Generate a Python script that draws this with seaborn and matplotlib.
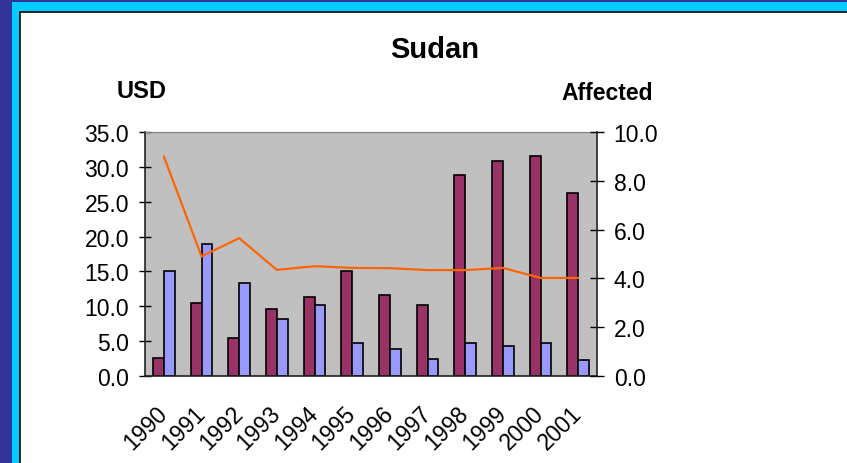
import numpy as np
import pandas as pd
import seaborn as sns
import matplotlib.pyplot as plt
from matplotlib.patches import Rectangle
from matplotlib.ticker import FixedLocator, FormatStrFormatter

# data
years = ['1990', '1991', '1992', '1993', '1994', '1995',
         '1996', '1997', '1998', '1999', '2000', '2001']
usd_a = [2.6, 10.5, 5.4, 9.6, 11.3, 15.0, 11.6, 10.2, 28.8, 30.8, 31.6, 26.3]
usd_b = [15.0, 18.9, 13.3, 8.2, 10.2, 4.8, 3.9, 2.5, 4.8, 4.3, 4.8, 2.3]
affected = [9.0, 4.9, 5.65, 4.35, 4.5, 4.43, 4.42, 4.34, 4.34, 4.43, 4.02, 4.02]

df = pd.DataFrame({
    'year': years * 2,
    'value': usd_a + usd_b,
    'series': ['A'] * len(years) + ['B'] * len(years),
})

sns.set_style('white')
plt.rcParams['font.family'] = ['Liberation Sans', 'DejaVu Sans']
plt.rcParams['text.color'] = 'black'
plt.rcParams['xtick.color'] = 'black'
plt.rcParams['ytick.color'] = 'black'

fig = plt.figure(figsize=(8.47, 4.64), dpi=100)
fig.patch.set_facecolor('white')

# slide-like frame
W, H = 847, 464
fig.patches.append(Rectangle((0, 0), 1, 1, transform=fig.transFigure,
                             facecolor='#333399', edgecolor='none', zorder=-3))
fig.patches.append(Rectangle((12 / W, 0), 1, 1 - 3 / H, transform=fig.transFigure,
                             facecolor='#00CCFF', edgecolor='none', zorder=-2))
fig.patches.append(Rectangle((20 / W, -0.05), 1, 1.05 - 13 / H, transform=fig.transFigure,
                             facecolor='white', edgecolor='black', linewidth=1.2, zorder=-1))

ax = fig.add_axes([145 / W, 87 / H, 452 / W, 244 / H])
ax.set_facecolor('#C0C0C0')

sns.barplot(data=df, x='year', y='value', hue='series',
            palette=['#993366', '#9999FF'], width=0.57, saturation=1,
            edgecolor='black', linewidth=1.2, legend=False, ax=ax, zorder=2)

ax.set_xlim(-0.5, len(years) - 0.5)
ax.set_ylim(0, 35)
ax.yaxis.set_major_locator(FixedLocator(np.arange(0, 35.1, 5)))
ax.yaxis.set_major_formatter(FormatStrFormatter('%.1f'))
ax.set_xlabel('')
ax.set_ylabel('')

# ticks on category boundaries, labels at centres
ax.xaxis.set_minor_locator(FixedLocator(np.arange(-0.5, len(years), 1)))
ax.tick_params(axis='x', which='major', length=0, pad=24, labelsize=16.5)
ax.tick_params(axis='x', which='minor', direction='out', length=6, width=1, color='#333333')
ax.tick_params(axis='y', direction='inout', length=9, width=1, pad=7, labelsize=16.5)
for lab in ax.get_xticklabels():
    lab.set_rotation(45)
    lab.set_ha('right')
    lab.set_va('center')
    lab.set_rotation_mode('anchor')

for side in ['left', 'bottom']:
    ax.spines[side].set_color('#222222')
    ax.spines[side].set_linewidth(1.2)
ax.spines['top'].set_color('#808080')
ax.spines['right'].set_visible(False)

ax2 = ax.twinx()
sns.lineplot(x=np.arange(len(years)), y=affected, color='#FF6600',
             linewidth=1.6, ax=ax2, zorder=3)
ax2.set_ylim(0, 10)
ax2.yaxis.set_major_locator(FixedLocator(np.arange(0, 10.1, 2)))
ax2.yaxis.set_major_formatter(FormatStrFormatter('%.1f'))
ax2.tick_params(axis='y', direction='inout', length=10, width=1, pad=7, labelsize=16.5)
ax2.spines['right'].set_color('#222222')
ax2.spines['right'].set_linewidth(1.2)
for side in ['left', 'bottom', 'top']:
    ax2.spines[side].set_visible(False)

fig.text(435 / W, 1 - 50 / H, 'Sudan', ha='center', va='center',
         fontsize=21, fontweight='bold')
fig.text(142 / W, 1 - 92 / H, 'USD', ha='center', va='center',
         fontsize=17, fontweight='bold')
fig.text(607 / W, 1 - 93 / H, 'Affected', ha='center', va='center',
         fontsize=16.5, fontweight='bold')

plt.savefig('out.png', dpi=100)
